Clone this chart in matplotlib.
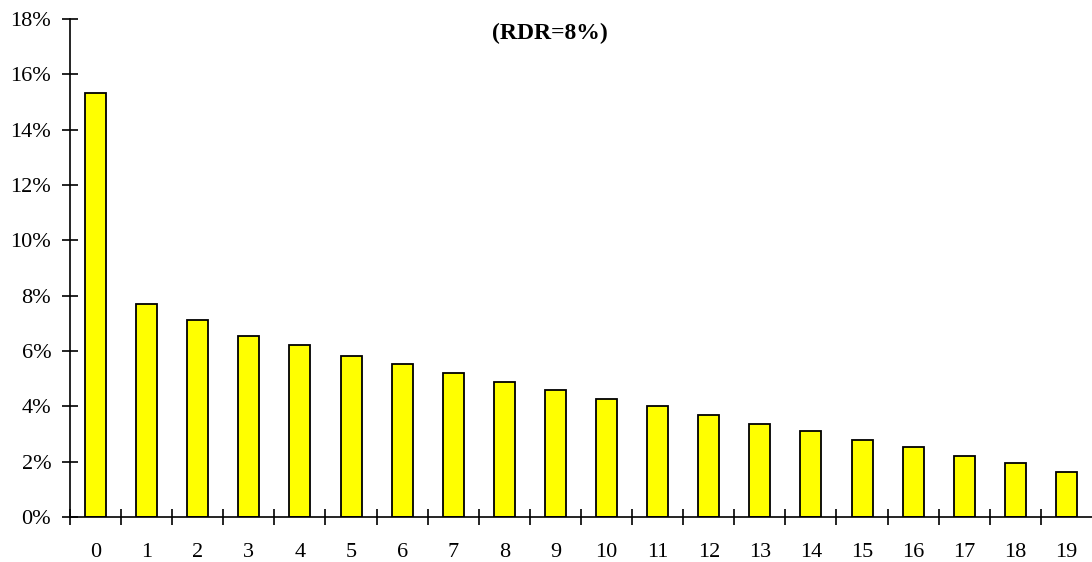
import numpy as np
import matplotlib
matplotlib.use("Agg")
import matplotlib.pyplot as plt
from matplotlib.ticker import FixedLocator, PercentFormatter

years = list(range(20))
share = [15.31, 7.69, 7.12, 6.53, 6.22, 5.83, 5.53, 5.22, 4.89, 4.59,
         4.28, 4.01, 3.70, 3.37, 3.11, 2.79, 2.54, 2.22, 1.96, 1.64]
title = "(RDR=8%)"

plt.rcParams['font.family'] = ['Liberation Serif', 'DejaVu Serif']

fig = plt.figure(figsize=(10.92, 5.62), dpi=100)
ax = fig.add_axes([0.0641, 0.0801, 0.9359, 0.8861])

X = np.arange(len(years))
ax.bar(X, share, 0.41, color='#ffff00', edgecolor='black', linewidth=1.3)

ax.set_xlim(-0.5, len(years) - 0.5)
ax.set_ylim(0, 18)
ax.set_yticks(np.arange(0, 19, 2))
ax.yaxis.set_major_formatter(PercentFormatter(decimals=0))

# labels centred under bars, ticks on the category boundaries
ax.set_xticks(X)
ax.set_xticklabels([str(y) for y in years])
ax.xaxis.set_minor_locator(FixedLocator(np.arange(len(years)) - 0.5))

ax.spines['top'].set_visible(False)
ax.spines['right'].set_visible(False)
for s in ['left', 'bottom']:
    ax.spines[s].set_linewidth(1.2)

ax.tick_params(axis='y', direction='inout', length=11, width=1.2, pad=8, labelsize=16)
ax.tick_params(axis='x', which='major', length=0, pad=19, labelsize=16)
ax.tick_params(axis='x', which='minor', direction='inout', length=11, width=1.2)

ax.text(0.47, 0.993, title, transform=ax.transAxes, ha='center', va='top',
        fontsize=17, fontweight='bold')

fig.savefig("out.png", dpi=100)
